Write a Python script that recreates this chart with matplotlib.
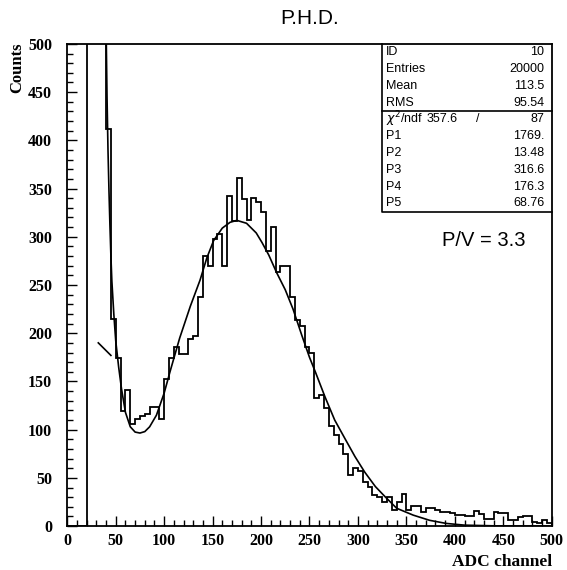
import numpy as np
import matplotlib.pyplot as plt
from matplotlib.ticker import MultipleLocator

# ----------------------------------------------
# data (5 channel bins, 0..500)
bin_edges = np.arange(0, 505, 5)
counts = [
    0, 0, 0, 0,                      # 0-20
    2400, 2200, 2000, 1800,          # 20-40 (off scale)
    412, 215, 174, 119, 141, 106, 111, 114, 116, 124,      # 40-90
    124, 111, 153, 174, 186, 178, 178, 194, 197, 238,      # 90-140
    280, 270, 298, 303, 270, 342, 316, 361, 339, 317,      # 140-190
    340, 336, 326, 285, 310, 263, 270, 270, 238, 214,      # 190-240
    207, 186, 179, 133, 136, 122, 104, 94, 85, 75,         # 240-290
    53, 60, 57, 46, 41, 32, 30, 25, 30, 17,                # 290-340
    25, 33, 17, 21, 21, 15, 19, 19, 17, 15,                # 340-390
    15, 14, 12, 12, 10, 10, 16, 13, 7, 7,                  # 390-440
    15, 14, 14, 6, 6, 9, 11, 11, 4, 3,                     # 440-490
    6, 3,                                                  # 490-500
]

# fit curve (expo + gauss)
fit_x = [40, 41, 42, 43, 44, 45, 46, 48, 50, 53, 56, 60, 65, 70, 75, 80, 85,
         92, 100, 106, 116, 127, 137, 144, 151, 160, 168, 175, 185, 195, 201,
         208, 216, 225, 233, 242, 250, 256, 266, 276, 287, 297, 307, 318,
         328, 340, 357, 374, 391, 410, 440, 470, 500]
fit_y = [520, 445, 390, 348, 312, 280, 254, 220, 192, 165, 142, 118, 103,
         97.5, 96.5, 98, 103, 115, 138, 160, 195, 228, 255, 278, 296, 309,
         315, 317, 314, 304, 294, 281, 263, 245, 225, 198, 175, 160, 134,
         110, 90, 72, 56, 41, 30.5, 18.5, 11.4, 6, 2.8, 1.0, 0.3, 0.1, 0.05]

stat_labels = ['ID', 'Entries', 'Mean', 'RMS']
stat_values = ['10', '20000', '113.5', '95.54']
chi2 = '357.6'
ndf = '87'
par_labels = ['P1', 'P2', 'P3', 'P4', 'P5']
par_values = ['1769.', '13.48', '316.6', '176.3', '68.76']

valley_mark_x = [32, 45]
valley_mark_y = [190, 177]

# ----------------------------------------------
fig = plt.figure(figsize=(5.67, 5.70), dpi=100)
ax = fig.add_axes([0.1187, 0.077, 0.8543, 0.846])

ax.stairs(counts, bin_edges, baseline=0, color='black', lw=1.3)
ax.plot(fit_x, fit_y, color='black', lw=1.2)
ax.plot(valley_mark_x, valley_mark_y, color='black', lw=1.2)

ax.set_xlim(0, 500)
ax.set_ylim(0, 500)

for s in ax.spines.values():
    s.set_linewidth(1.3)

ax.xaxis.set_major_locator(MultipleLocator(50))
ax.xaxis.set_minor_locator(MultipleLocator(10))
ax.yaxis.set_major_locator(MultipleLocator(50))
ax.yaxis.set_minor_locator(MultipleLocator(10))
ax.tick_params(which='both', direction='in', top=False, right=False, width=1)
ax.tick_params(which='major', length=7)
ax.tick_params(which='minor', length=4)
ax.tick_params(axis='y', pad=11)
ax.tick_params(axis='x', pad=5)

serif = dict(family='Liberation Serif', weight='bold')
for lab in ax.get_xticklabels() + ax.get_yticklabels():
    lab.set_fontfamily('Liberation Serif')
    lab.set_fontweight('bold')
    lab.set_fontsize(11.5)

fig.text(0.03, 0.925, 'Counts', rotation=90, ha='center', va='top',
         fontsize=12, **serif)
fig.text(0.973, 0.014, 'ADC channel', ha='right', va='center',
         fontsize=12.5, **serif)
fig.text(0.546, 0.967, 'P.H.D.', ha='center', va='center',
         fontsize=15, family='Liberation Sans')

# stats box
box_left, box_bottom, box_div = 0.649, 0.652, 0.861
ax.plot([box_left, box_left, 1.0], [1.0, box_bottom, box_bottom],
        transform=ax.transAxes, color='black', lw=1.2, clip_on=False)
ax.plot([box_left, 1.0], [box_div, box_div], transform=ax.transAxes,
        color='black', lw=1.2, clip_on=False)

sans = dict(family='Liberation Sans', fontsize=9, transform=ax.transAxes,
            va='center')
x_lab, x_val = 0.657, 0.985
row_h = (1.0 - box_div) / len(stat_labels)
for i, (l, v) in enumerate(zip(stat_labels, stat_values)):
    y = 1.0 - row_h * (i + 0.5)
    ax.text(x_lab, y, l, ha='left', **sans)
    ax.text(x_val, y, v, ha='right', **sans)

row_h2 = (box_div - box_bottom) / (len(par_labels) + 1)
y0 = box_div - row_h2 * 0.5
ax.text(x_lab, y0, r'$\chi^2$/ndf', ha='left', **sans)
ax.text(0.805, y0, chi2, ha='right', **sans)
ax.text(0.848, y0, '/', ha='center', **sans)
ax.text(x_val, y0, ndf, ha='right', **sans)
for i, (l, v) in enumerate(zip(par_labels, par_values)):
    y = box_div - row_h2 * (i + 1.5)
    ax.text(x_lab, y, l, ha='left', **sans)
    ax.text(x_val, y, v, ha='right', **sans)

ax.text(0.7735, 0.593, 'P/V = 3.3', transform=ax.transAxes, ha='left',
        va='center', fontsize=14.5, family='Liberation Sans')

fig.savefig('out.png', dpi=100)
